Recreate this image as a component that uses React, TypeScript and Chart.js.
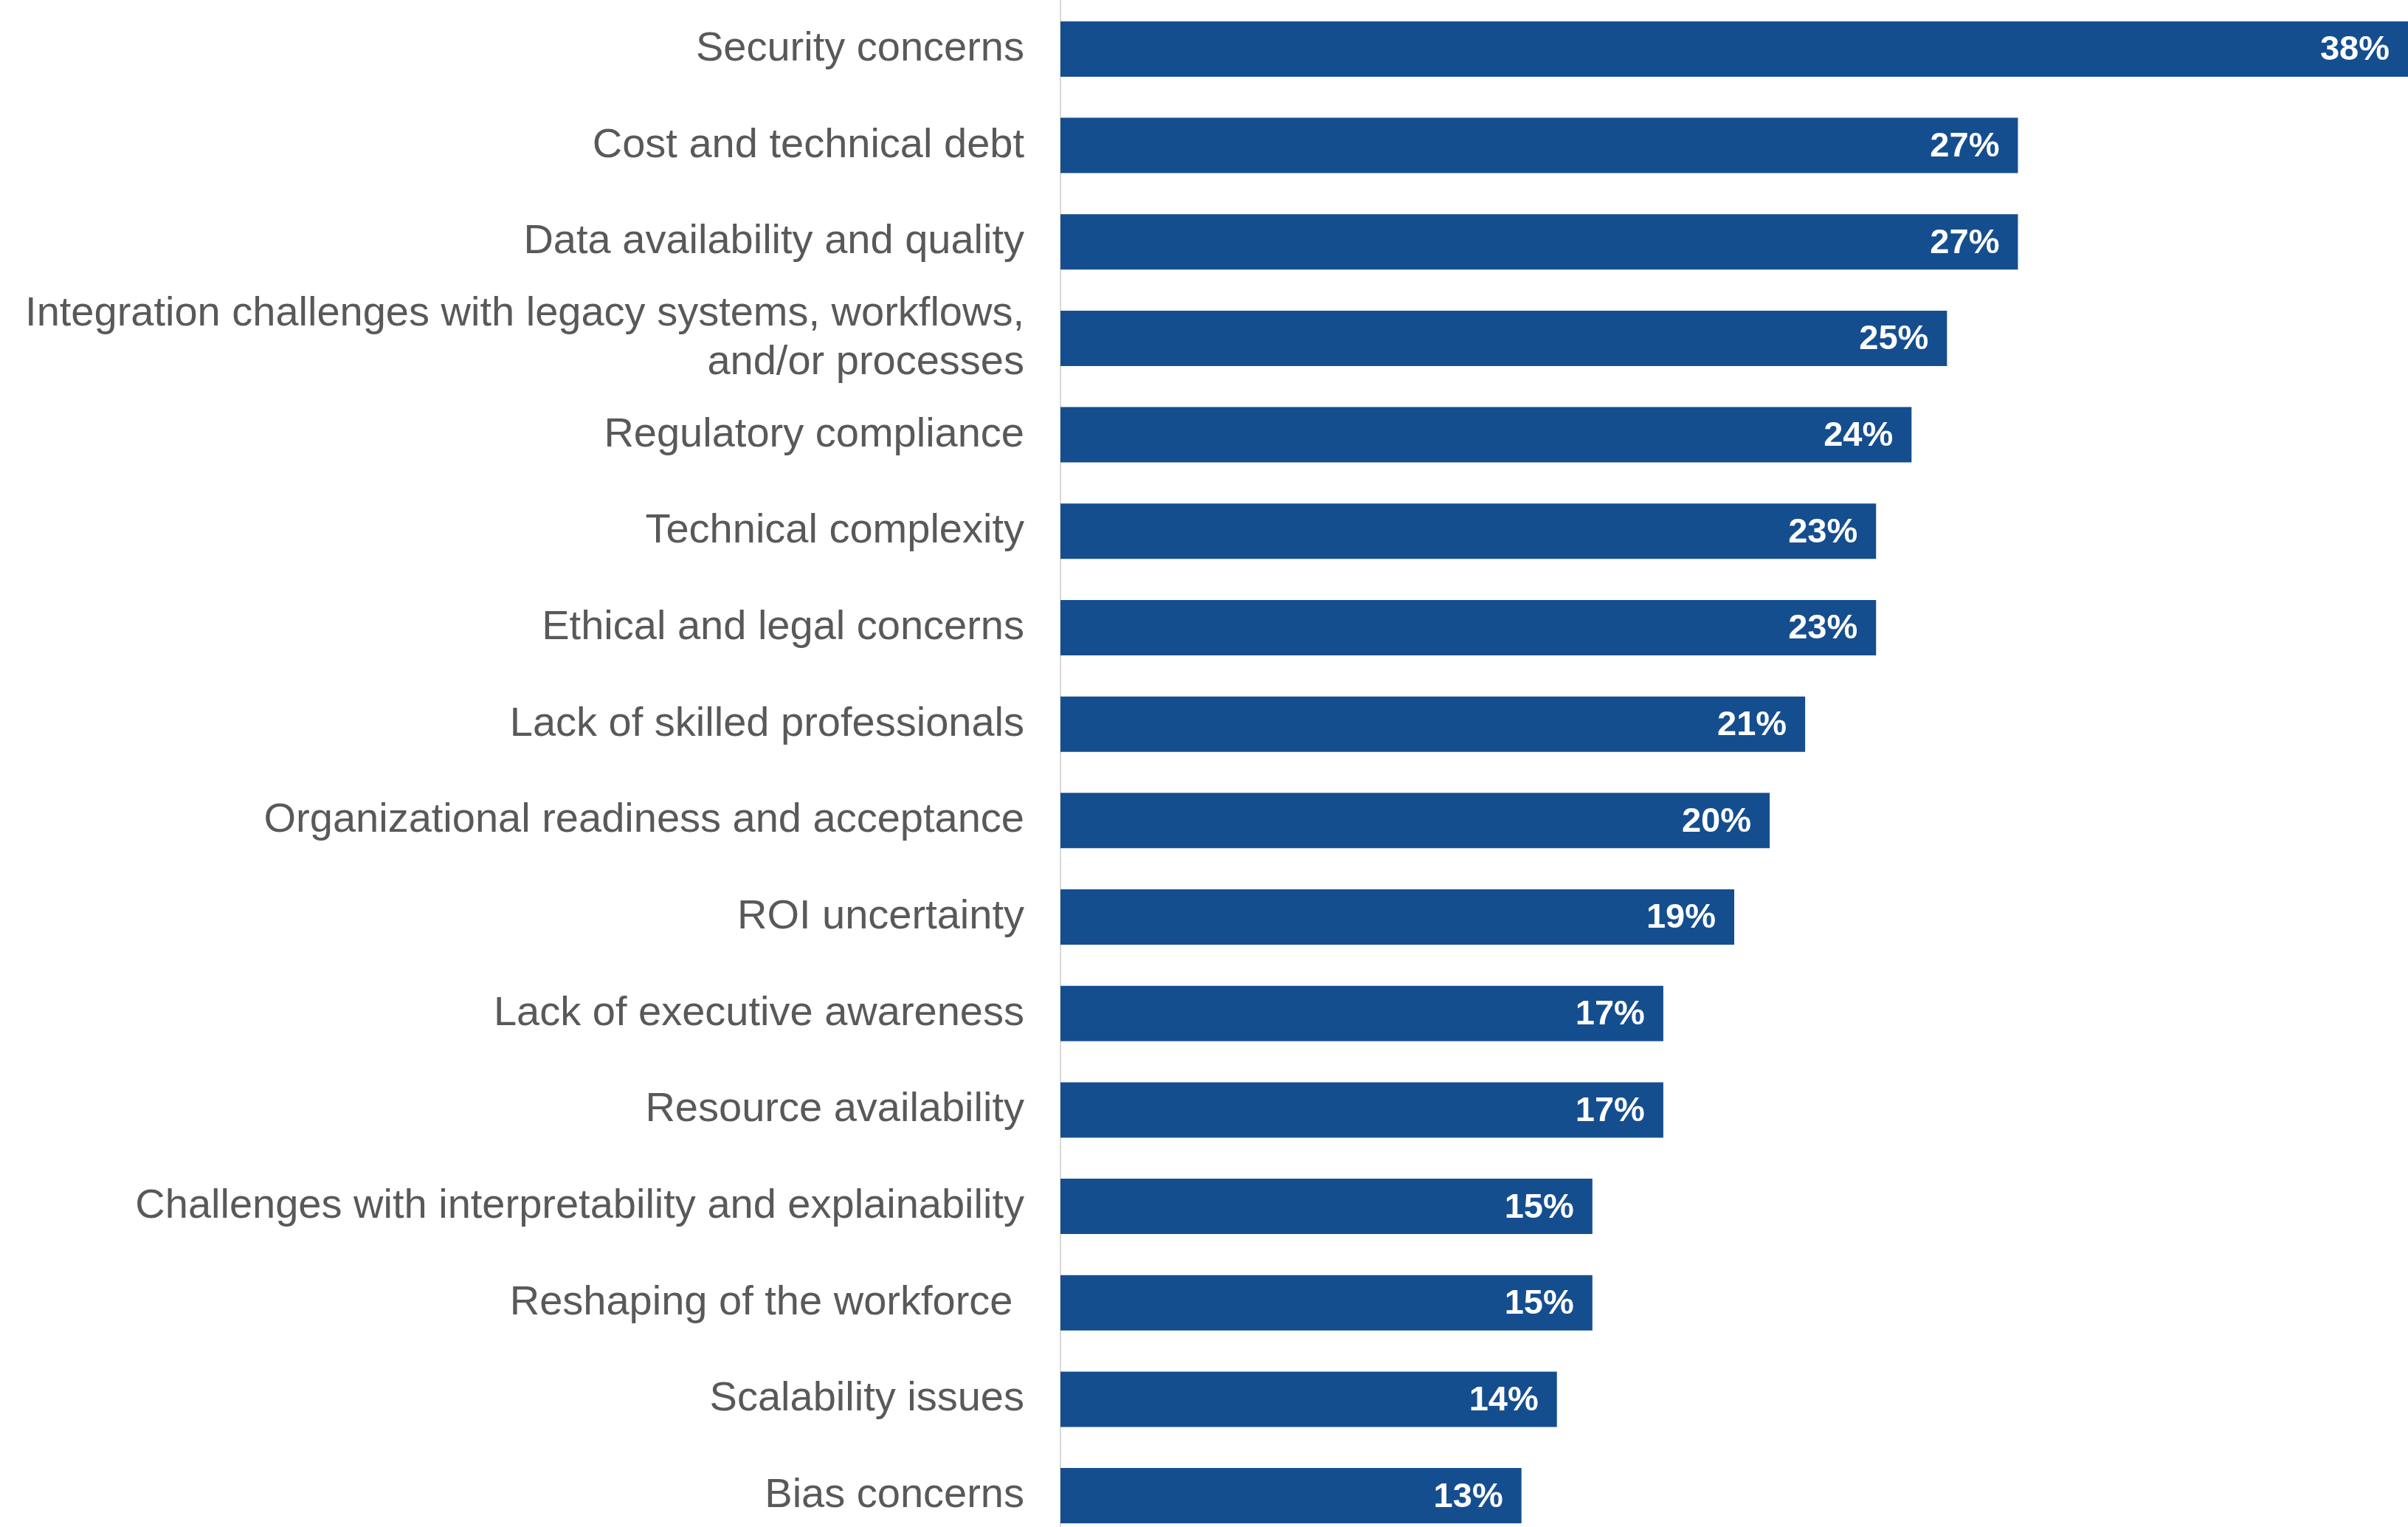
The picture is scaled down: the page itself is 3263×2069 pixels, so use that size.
import React, { useEffect, useRef } from "react";
import { Chart, registerables } from "chart.js";

Chart.register(...registerables);

const categories: (string | string[])[] = [
  "Security concerns",
  "Cost and technical debt",
  "Data availability and quality",
  ["Integration challenges with legacy systems, workflows,", "and/or processes"],
  "Regulatory compliance",
  "Technical complexity",
  "Ethical and legal concerns",
  "Lack of skilled professionals",
  "Organizational readiness and acceptance",
  "ROI uncertainty",
  "Lack of executive awareness",
  "Resource availability",
  "Challenges with interpretability and explainability",
  "Reshaping of the workforce ",
  "Scalability issues",
  "Bias concerns",
];

const values: number[] = [38, 27, 27, 25, 24, 23, 23, 21, 20, 19, 17, 17, 15, 15, 14, 13];

const valueLabels: string[] = values.map((v) => `${v}%`);

const BAR_COLOR = "#154e8f";
const FONT = "'Liberation Sans', Arial, sans-serif";

const W = 3263;
const SHIFT = 32;
const H = 2157;

const valueLabelPlugin = {
  id: "valueLabels",
  afterDatasetsDraw(chart: any) {
    const ctx = chart.ctx;
    const meta = chart.getDatasetMeta(0);
    ctx.save();
    ctx.fillStyle = "#ffffff";
    ctx.font = `bold 47px ${FONT}`;
    ctx.textAlign = "right";
    ctx.textBaseline = "middle";
    meta.data.forEach((bar: any, i: number) => {
      ctx.fillText(valueLabels[i], bar.x - 25, bar.y + 2);
    });
    ctx.restore();
  },
};

const bgPlugin = {
  id: "bg",
  beforeDraw(chart: any) {
    const ctx = chart.ctx;
    ctx.save();
    ctx.fillStyle = "#ffffff";
    ctx.fillRect(0, 0, chart.width, chart.height);
    ctx.restore();
  },
};

export default function App() {
  const ref = useRef<HTMLCanvasElement | null>(null);

  useEffect(() => {
    if (!ref.current) return;
    const chart = new Chart(ref.current, {
      type: "bar",
      data: {
        labels: categories,
        datasets: [
          {
            data: values,
            backgroundColor: BAR_COLOR,
            borderWidth: 0,
            categoryPercentage: 1,
            barPercentage: 0.574,
          },
        ],
      },
      options: {
        indexAxis: "y",
        animation: false,
        responsive: false,
        maintainAspectRatio: false,
        devicePixelRatio: 1,
        layout: { padding: 0 },
        plugins: {
          legend: { display: false },
          tooltip: { enabled: false },
          title: { display: false },
        },
        scales: {
          x: {
            display: false,
            min: 0,
            max: 38,
            grid: { display: false },
          },
          y: {
            offset: true,
            afterFit: (scale: any) => {
              scale.width = 1437;
            },
            grid: {
              display: true,
              drawOnChartArea: false,
              drawTicks: true,
              tickLength: 49,
              tickColor: "rgba(0,0,0,0)",
              color: "rgba(0,0,0,0)",
            },
            border: { display: true, color: "#d9d9d9", width: 2 },
            ticks: {
              color: "#595959",
              padding: 0,
              autoSkip: false,
              font: { family: FONT, size: 56, lineHeight: 1.18 },
            },
          },
        },
      },
      plugins: [bgPlugin, valueLabelPlugin],
    });
    return () => chart.destroy();
  }, []);

  return (
    <div style={{ position: "fixed", left: 0, top: -SHIFT, width: W, height: H, background: "#fff" }}>
      <canvas ref={ref} width={W} height={H} style={{ width: W, height: H, display: "block" }} />
    </div>
  );
}
